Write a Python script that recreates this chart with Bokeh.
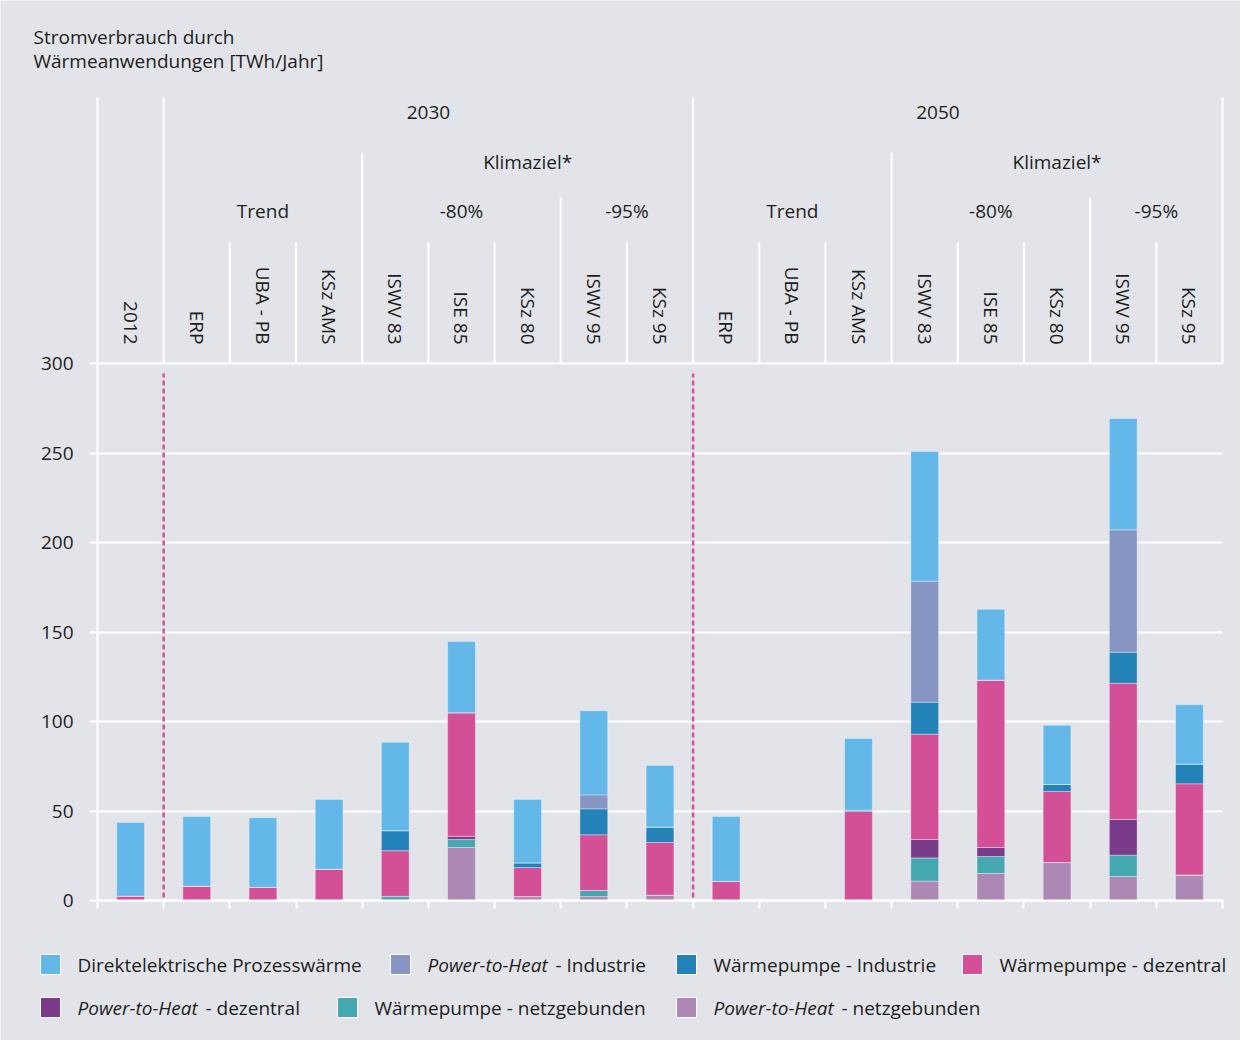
import math
from bokeh.plotting import figure
from bokeh.models import Range1d, FixedTicker, ColumnDataSource, LinearAxis
from bokeh.core.properties import value
from bokeh.embed import file_html
from bokeh.resources import INLINE

# ---------------- data ----------------
scenarios = ["2012", "ERP", "UBA - PB", "KSz AMS", "ISWV 83", "ISE 85", "KSz 80", "ISWV 95", "KSz 95",
             "ERP", "UBA - PB", "KSz AMS", "ISWV 83", "ISE 85", "KSz 80", "ISWV 95", "KSz 95"]

# stack order bottom -> top
series_names = [
    "Power-to-Heat -  netzgebunden",
    "Wärmepumpe - netzgebunden",
    "Power-to-Heat -  dezentral",
    "Wärmepumpe -  dezentral",
    "Wärmepumpe - Industrie",
    "Power-to-Heat - Industrie",
    "Direktelektrische Prozesswärme",
]
pth_netz = [0, 0, 0, 0, 0, 29.6, 2.2, 2.2, 3.0, 0, 0, 0, 10.8, 15.1, 21.2, 13.4, 14.3]
wp_netz = [0, 0, 0, 0, 2.3, 4.5, 0, 3.4, 0, 0, 0, 0, 13.0, 9.5, 0, 11.9, 0]
pth_dez = [0, 0, 0, 0, 0, 1.7, 0, 0, 0, 0, 0, 0, 10.3, 5.0, 0, 20.0, 0]
wp_dez = [2.5, 8.0, 7.3, 17.5, 25.5, 69.1, 16.2, 31.1, 29.4, 10.6, 0, 49.7, 58.8, 93.5, 39.7, 76.1, 50.9]
wp_ind = [0, 0, 0, 0, 11.2, 0, 2.6, 14.5, 8.6, 0, 0, 0.8, 17.9, 0, 3.9, 17.3, 11.0]
pth_ind = [0, 0, 0, 0, 0, 0, 0, 7.8, 0, 0, 0, 0, 67.6, 0, 0, 68.4, 0]
direkt = [41.1, 38.9, 38.9, 38.9, 49.4, 39.8, 35.4, 47.0, 34.4, 36.3, 0, 40.0, 72.4, 39.6, 33.1, 62.2, 33.1]
series_values = [pth_netz, wp_netz, pth_dez, wp_dez, wp_ind, pth_ind, direkt]
colors = ["#ae88b5", "#45a8b0", "#7a3b8a", "#d35096", "#2383b8", "#8795c2", "#63b8e9"]

y_ticks = [0, 50, 100, 150, 200, 250, 300]
title_text = "Stromverbrauch durch\nWärmeanwendungen [TWh/Jahr]"

# header groups: (text, first column, last column + 1, row)
header_groups = [
    ("2030", 1, 9, 0), ("2050", 9, 17, 0),
    ("Klimaziel*", 4, 9, 1), ("Klimaziel*", 12, 17, 1),
    ("Trend", 1, 4, 2), ("-80%", 4, 7, 2), ("-95%", 7, 9, 2),
    ("Trend", 9, 12, 2), ("-80%", 12, 15, 2), ("-95%", 15, 17, 2),
]

# ---------------- style / layout helpers ----------------
BG = "#e3e4ea"
TXT = "#1d1d1b"
FONT = "Open Sans"
FS = "19px"
PXU = 1.79                     # pixels per TWh
W, H = 1240, 1040
N = len(scenarios)
PXX = (1230 - 105) / N         # pixels per column
XR = (-(105 - 8) / PXX, (8 + W - 105) / PXX)

def yv(img_y):                 # page pixel y -> data y
    return (908 - img_y) / PXU

def xv(img_x):                 # page pixel x -> data x
    return (img_x - 105) / PXX

row_text_y = [yv(120), yv(169), yv(218)]
row_line_top = [yv(105), yv(160), yv(205), yv(250)]

p = figure(width=W, height=H, output_backend="svg", toolbar_location=None,
           x_range=Range1d(*XR), y_range=Range1d(-(H - 900) / PXU, 900 / PXU),
           x_axis_location=None, y_axis_location=None,
           min_border_left=0, min_border_right=0, min_border_top=0, min_border_bottom=0)
p.background_fill_color = BG
p.border_fill_color = BG
p.outline_line_color = None
p.xgrid.visible = False

yaxis = LinearAxis(fixed_location=0, ticker=FixedTicker(ticks=y_ticks), bounds=(0, row_line_top[0]))
yaxis.axis_line_color = "white"
yaxis.axis_line_width = 2
yaxis.major_tick_line_color = "white"
yaxis.major_tick_line_width = 2
yaxis.major_tick_out = 8
yaxis.major_tick_in = 0
yaxis.minor_tick_line_color = None
yaxis.major_label_standoff = 16
yaxis.major_label_text_font = FONT
yaxis.major_label_text_font_size = FS
yaxis.major_label_text_color = TXT
p.add_layout(yaxis, "left")

xaxis = LinearAxis(fixed_location=0, ticker=FixedTicker(ticks=list(range(N + 1))), bounds=(0, N))
xaxis.axis_line_color = "white"
xaxis.axis_line_width = 2
xaxis.major_tick_line_color = "white"
xaxis.major_tick_line_width = 2
xaxis.major_tick_out = 8
xaxis.major_tick_in = 0
xaxis.minor_tick_line_color = None
xaxis.major_label_text_font_size = "0px"
xaxis.major_label_text_alpha = 0
p.add_layout(xaxis, "below")

yg = p.ygrid[0]
yg.ticker = FixedTicker(ticks=y_ticks)
yg.grid_line_color = "white"
yg.grid_line_width = 2
if "cross_bounds" in yg.properties():
    yg.cross_bounds = (0, N)

# bars
keys = [f"s{i}" for i in range(len(series_names))]
data = {"x": [i + 0.5 for i in range(N)]}
for k, vals in zip(keys, series_values):
    data[k] = vals
src = ColumnDataSource(data)
p.vbar_stack(keys, x="x", width=0.42, source=src, fill_color=colors,
             line_color="white", line_alpha=0.35, line_width=1)

# dashed separators (2030 / 2050)
p.segment(x0=[1, 9], y0=[yv(905)] * 2, x1=[1, 9], y1=[yv(381)] * 2,
          line_color="#d4509a", line_width=2.5, line_dash="5 3")

# header vertical lines
lx, ltop = [], []
for b in range(1, N + 1):
    if b in (1, 9, 17):
        t = row_line_top[0]
    elif b in (4, 12):
        t = row_line_top[1]
    elif b in (7, 15):
        t = row_line_top[2]
    else:
        t = row_line_top[3]
    lx.append(b)
    ltop.append(t)
p.segment(x0=lx, y0=[300] * len(lx), x1=lx, y1=ltop, line_color="white", line_width=2)

# header group texts
gx = [(a + b) / 2 for (_, a, b, _) in header_groups]
gx[1] = 12.7
gy = [row_text_y[r] for (_, _, _, r) in header_groups]
gt = [t for (t, _, _, _) in header_groups]
p.text(x=gx, y=gy, text=gt, text_font=value(FONT), text_font_size=FS, text_color=TXT,
       text_align="center", text_baseline="middle")

# rotated scenario labels
p.text(x=[i + 0.5 for i in range(N)], y=[yv(352)] * N, text=scenarios,
       angle=-math.pi / 2, text_font=value(FONT), text_font_size=FS, text_color=TXT,
       text_align="right", text_baseline="middle")

# title
p.text(x=[xv(41)], y=[yv(31)], text=[title_text], text_font=value(FONT), text_font_size=FS,
       text_color=TXT, text_baseline="top", text_align="left", text_line_height=0.93)

# ---------------- legend (lower part of the canvas) ----------------
legend_order = [6, 5, 4, 3, 2, 1, 0]
legend_sq_x = [58, 408, 694, 980, 58, 355, 694]        # page px
legend_row_y = [972, 972, 972, 972, 1015, 1015, 1015]  # page px
ITALIC = "Power-to-Heat"
ITALIC_W = 128

sq_colors = [colors[i] for i in legend_order]
p.scatter(x=[xv(v) for v in legend_sq_x], y=[yv(v) for v in legend_row_y], marker="square",
          size=20, fill_color=sq_colors, line_color="white", line_width=1)
it_x, it_y, it_t, n_x, n_y, n_t = [], [], [], [], [], []
for i, sx, sy in zip(legend_order, legend_sq_x, legend_row_y):
    name = series_names[i]
    tx = sx + 27
    if name.startswith(ITALIC):
        it_x.append(xv(tx)); it_y.append(yv(sy)); it_t.append(ITALIC)
        n_x.append(xv(tx + ITALIC_W)); n_y.append(yv(sy)); n_t.append(name[len(ITALIC):].strip())
    else:
        n_x.append(xv(tx)); n_y.append(yv(sy)); n_t.append(name)
p.text(x=it_x, y=it_y, text=it_t, text_font=value(FONT), text_font_size=FS,
       text_font_style="italic", text_color=TXT, text_baseline="middle", text_align="left")
p.text(x=n_x, y=n_y, text=n_t, text_font=value(FONT), text_font_size=FS,
       text_color=TXT, text_baseline="middle", text_align="left")

open("out.html", "w").write(file_html(p, INLINE))
